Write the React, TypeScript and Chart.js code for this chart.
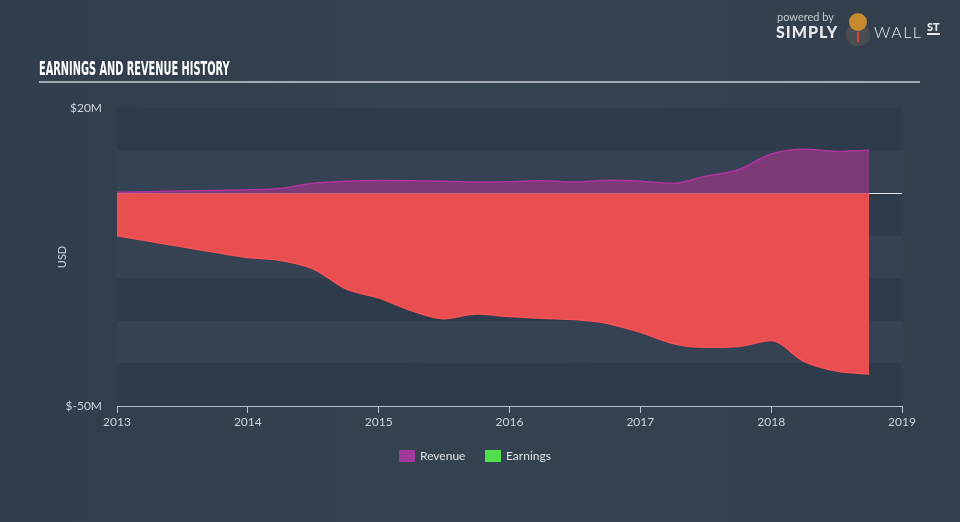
import React, { useEffect, useRef } from 'react';
import { Chart, registerables } from 'chart.js';

Chart.register(...registerables);

const periods = [
  2013, 2013.25, 2013.5, 2013.75, 2014, 2014.25, 2014.5, 2014.75,
  2015, 2015.25, 2015.5, 2015.75, 2016, 2016.25, 2016.5, 2016.75,
  2017, 2017.25, 2017.5, 2017.75, 2018, 2018.25, 2018.5, 2018.75,
];
const revenue = [
  0.2, 0.35, 0.5, 0.65, 0.8, 1.1, 2.3, 2.8,
  2.95, 2.9, 2.8, 2.6, 2.7, 2.9, 2.6, 3.0,
  2.8, 2.3, 4.0, 5.5, 9.2, 10.3, 9.8, 10.1,
];
const earnings = [
  -10.0, -11.3, -12.6, -13.9, -15.1, -15.8, -17.8, -22.5,
  -24.6, -27.6, -29.5, -28.4, -29.0, -29.4, -29.7, -30.6,
  -32.7, -35.3, -36.2, -36.0, -34.6, -39.5, -41.8, -42.5,
];
const yearTicks = [2013, 2014, 2015, 2016, 2017, 2018, 2019];
const yMin = -50;
const yMax = 20;
const yLabels: Record<number, string> = { 20: '$20M', [-50]: '$-50M' };

const bandsPlugin = {
  id: 'bands',
  beforeDraw(chart: any) {
    const { ctx, chartArea, scales } = chart;
    const y = scales.y;
    ctx.save();
    let i = 0;
    for (let v = yMax; v > yMin; v -= 10) {
      const top = y.getPixelForValue(v);
      const bot = y.getPixelForValue(v - 10);
      ctx.fillStyle = i % 2 === 0 ? '#2e3b4a' : '#344253';
      ctx.fillRect(chartArea.left, top, chartArea.right - chartArea.left, bot - top);
      i++;
    }
    ctx.restore();
  },
  beforeDatasetsDraw(chart: any) {
    const { ctx, chartArea, scales } = chart;
    const y0 = Math.round(scales.y.getPixelForValue(0)) + 0.5;
    ctx.save();
    ctx.strokeStyle = '#e6e9ee';
    ctx.lineWidth = 1;
    ctx.beginPath();
    ctx.moveTo(chartArea.left, y0);
    ctx.lineTo(chartArea.right, y0);
    ctx.stroke();
    ctx.restore();
  },
};

export default function App() {
  const ref = useRef<HTMLCanvasElement>(null);

  useEffect(() => {
    document.body.style.margin = '0';
    const canvas = ref.current!;
    const chart = new Chart(canvas, {
      type: 'line',
      data: {
        datasets: [
          {
            label: 'Revenue',
            data: periods.map((p, i) => ({ x: p, y: revenue[i] })),
            borderColor: '#b1339f',
            backgroundColor: '#7c3a77',
            borderWidth: 1.5,
            fill: 'origin',
            pointRadius: 0,
            cubicInterpolationMode: 'monotone',
          },
          {
            label: 'Earnings',
            data: periods.map((p, i) => ({ x: p, y: earnings[i] })),
            borderColor: '#f65257',
            backgroundColor: '#e94f51',
            borderWidth: 1.5,
            fill: 'origin',
            pointRadius: 0,
            cubicInterpolationMode: 'monotone',
          },
        ],
      },
      options: {
        animation: false,
        responsive: false,
        devicePixelRatio: 1,
        layout: { padding: { left: 52, right: 58, top: 108, bottom: 86 } },
        plugins: {
          legend: { display: false },
          tooltip: { enabled: false },
          title: { display: false },
        },
        scales: {
          x: {
            type: 'linear',
            min: 2013,
            max: 2019,
            afterBuildTicks: (scale: any) => {
              scale.ticks = yearTicks.map((v) => ({ value: v }));
            },
            afterFit: (scale: any) => {
              scale.height = 30;
            },
            ticks: {
              color: '#cdd4dc',
              font: { family: 'Lato', size: 12 },
              padding: 2,
              maxRotation: 0,
              autoSkip: false,
              callback: (v: any) => String(v),
            },
            grid: {
              display: true,
              drawOnChartArea: false,
              drawTicks: true,
              tickLength: 7,
              color: '#b3c1d0',
            },
            border: { display: true, color: '#b3c1d0', width: 1 },
          },
          y: {
            min: yMin,
            max: yMax,
            afterFit: (scale: any) => {
              scale.width = 65;
            },
            ticks: {
              stepSize: 10,
              color: '#cdd4dc',
              font: { family: 'Lato', size: 12 },
              padding: 15,
              callback: (v: any) => yLabels[v as number] ?? '',
            },
            grid: { display: false, drawTicks: false },
            border: { display: false },
            title: {
              display: true,
              text: 'USD',
              color: '#cdd4dc',
              font: { family: 'Lato', size: 11 },
            },
          },
        },
      },
      plugins: [bandsPlugin],
    } as any);
    return () => chart.destroy();
  }, []);

  return (
    <div
      style={{
        position: 'fixed',
        left: 0,
        top: 0,
        width: 960,
        height: 522,
        overflow: 'hidden',
        background: 'linear-gradient(90deg, #313d4c 0%, #35424f 50%, #333f4d 100%)',
        fontFamily: 'Lato, sans-serif',
      }}
    >
      <canvas ref={ref} width={960} height={522} style={{ position: 'absolute', left: 0, top: 0, width: 960, height: 522 }} />
      <div
        style={{
          position: 'absolute',
          left: 39,
          top: 56,
          fontFamily: '"Liberation Sans Narrow", "DejaVu Sans Condensed", sans-serif',
          fontWeight: 700,
          fontSize: 20,
          color: '#ffffff',
          whiteSpace: 'nowrap',
          transform: 'scaleX(0.545)',
          transformOrigin: 'left top',
          lineHeight: '24px',
        }}
      >
        EARNINGS AND REVENUE HISTORY
      </div>
      <div style={{ position: 'absolute', left: 39, top: 81, width: 881, height: 2, background: '#a3abb5' }} />
      {/* logo */}
      <div style={{ position: 'absolute', left: 777, top: 10, fontSize: 11, color: '#c3c9d0', lineHeight: '13px' }}>powered by</div>
      <div style={{ position: 'absolute', left: 776, top: 23, fontSize: 16, fontWeight: 900, color: '#e8ebee', letterSpacing: 1, lineHeight: '18px' }}>SIMPLY</div>
      <div style={{ position: 'absolute', left: 845, top: 10, width: 26, height: 36 }}>
        <div style={{ position: 'absolute', left: 1, top: 14, width: 24, height: 22, borderRadius: 12, background: '#4a4d52' }} />
        <div style={{ position: 'absolute', left: 4, top: 3, width: 18, height: 18, borderRadius: 9, background: '#c58a2e' }} />
        <div style={{ position: 'absolute', left: 12, top: 22, width: 2, height: 10, background: '#d9412f' }} />
      </div>
      <div style={{ position: 'absolute', left: 874, top: 23, fontSize: 16, fontWeight: 300, color: '#e8ebee', letterSpacing: 1.5, lineHeight: '18px' }}>WALL</div>
      <div style={{ position: 'absolute', left: 927, top: 21, fontSize: 11, fontWeight: 900, color: '#e8ebee', lineHeight: '12px', borderBottom: '2px solid #e8ebee' }}>ST</div>
      {/* legend */}
      <div style={{ position: 'absolute', left: 399, top: 450, width: 16, height: 12, background: '#a2399a' }} />
      <div style={{ position: 'absolute', left: 420, top: 448, fontSize: 12, color: '#dde2e7', lineHeight: '15px' }}>Revenue</div>
      <div style={{ position: 'absolute', left: 485, top: 450, width: 16, height: 12, background: '#4ee04e' }} />
      <div style={{ position: 'absolute', left: 506, top: 448, fontSize: 12, color: '#dde2e7', lineHeight: '15px' }}>Earnings</div>
    </div>
  );
}
